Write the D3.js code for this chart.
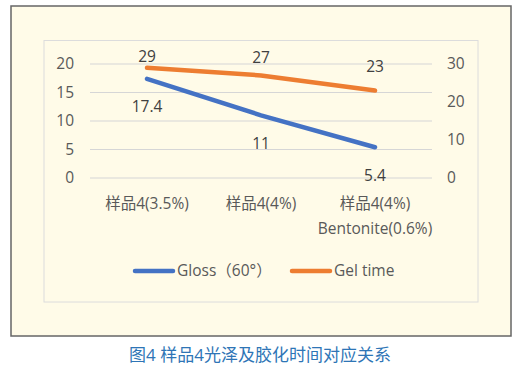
<html><head>
<meta charset="utf-8">
<script src="https://d3js.org/d3.v7.min.js"></script>
<style>
  body { margin: 0; background: #fff; }
  text { font-family: "Open Sans", "Noto Sans CJK SC", sans-serif; }
</style>
</head>
<body>
<div id="chart"></div>
<script>

// data
var categories = ["样品4(3.5%)", "样品4(4%)", "样品4(4%)\nBentonite(0.6%)"];
var gloss = [17.4, 11, 5.4];
var gelTime = [29, 27, 23];
var leftTicks = [0, 5, 10, 15, 20];
var rightTicks = [0, 10, 20, 30];
var seriesNames = ["Gloss（60°）", "Gel time"];
var caption = "图4 样品4光泽及胶化时间对应关系";

// label nudges (px) as placed in the original
var gelLabelDy = [-11, -18, -24];
var glossLabelDy = 28;

var W = 527, H = 374;
var plot = {left: 90, right: 432, top: 64, bottom: 178};
var fs = "15.5px";

var svg = d3.select("#chart").append("svg")
    .attr("width", W).attr("height", H);

// outer frame
svg.append("rect")
    .attr("x", 11).attr("y", 6).attr("width", 500).attr("height", 330)
    .attr("fill", "#fffbe8").attr("stroke", "#666").attr("stroke-width", 1.5);

// chart area frame
svg.append("rect")
    .attr("x", 44).attr("y", 40.5).attr("width", 434).attr("height", 261.5)
    .attr("fill", "none").attr("stroke", "#dcdcdc").attr("stroke-width", 1);

var x = d3.scaleBand().domain(categories).range([plot.left, plot.right]);
var yL = d3.scaleLinear().domain([0, 20]).range([plot.bottom, plot.top]);
var yR = d3.scaleLinear().domain([0, 30]).range([plot.bottom, plot.top]);

// grid
svg.append("g").selectAll("line").data(leftTicks).enter().append("line")
    .attr("x1", plot.left).attr("x2", plot.right)
    .attr("y1", function(d) { return yL(d); })
    .attr("y2", function(d) { return yL(d); })
    .attr("stroke", "#d6d6d6").attr("stroke-width", 1.2);

// left axis
var gl = svg.append("g")
    .attr("transform", "translate(" + 80 + ",0)")
    .call(d3.axisLeft(yL).tickValues(leftTicks).tickSize(0).tickPadding(6));
gl.select(".domain").remove();
gl.selectAll("text").attr("fill", "#595959").style("font-size", fs);

// right axis
var gr = svg.append("g")
    .attr("transform", "translate(" + 441 + ",0)")
    .call(d3.axisRight(yR).tickValues(rightTicks).tickSize(0).tickPadding(6));
gr.select(".domain").remove();
gr.selectAll("text").attr("fill", "#595959").style("font-size", fs);

// category labels
var cat = svg.append("g").selectAll("text").data(categories).enter().append("text")
    .attr("text-anchor", "middle")
    .attr("fill", "#595959").style("font-size", fs);
cat.each(function(d) {
  var t = d3.select(this);
  var cx = x(d) + x.bandwidth() / 2;
  d.split("\n").forEach(function(s, i) {
    t.append("tspan").attr("x", cx).attr("y", 208.5 + i * 25).text(s);
  });
});

function cx(i) { return x(categories[i]) + x.bandwidth() / 2; }

// lines
svg.append("path")
    .datum(gloss)
    .attr("fill", "none").attr("stroke", "#4472c4").attr("stroke-width", 4.5)
    .attr("stroke-linecap", "round")
    .attr("d", d3.line().x(function(d, i) { return cx(i); }).y(function(d) { return yL(d); }));

svg.append("path")
    .datum(gelTime)
    .attr("fill", "none").attr("stroke", "#ed7d31").attr("stroke-width", 4.5)
    .attr("stroke-linecap", "round")
    .attr("d", d3.line().x(function(d, i) { return cx(i); }).y(function(d) { return yR(d); }));

// data labels
svg.append("g").selectAll("text").data(gloss).enter().append("text")
    .attr("x", function(d, i) { return cx(i); })
    .attr("y", function(d) { return yL(d) + glossLabelDy; })
    .attr("dy", "0.35em").attr("text-anchor", "middle")
    .attr("fill", "#404040").style("font-size", fs)
    .text(function(d) { return d; });

svg.append("g").selectAll("text").data(gelTime).enter().append("text")
    .attr("x", function(d, i) { return cx(i); })
    .attr("y", function(d, i) { return yR(d) + gelLabelDy[i]; })
    .attr("dy", "0.35em").attr("text-anchor", "middle")
    .attr("fill", "#404040").style("font-size", fs)
    .text(function(d) { return d; });

// legend
var colors = ["#4472c4", "#ed7d31"];
var legX = [135, 292];
seriesNames.forEach(function(name, i) {
  svg.append("line")
      .attr("x1", legX[i]).attr("x2", legX[i] + 38)
      .attr("y1", 271).attr("y2", 271)
      .attr("stroke", colors[i]).attr("stroke-width", 4.5)
      .attr("stroke-linecap", "round");
  svg.append("text")
      .attr("x", legX[i] + 42).attr("y", 271).attr("dy", "0.35em")
      .attr("fill", "#595959").style("font-size", fs)
      .text(name);
});

// caption
svg.append("text")
    .attr("x", 260).attr("y", 355).attr("dy", "0.35em")
    .attr("text-anchor", "middle")
    .attr("fill", "#2e75b6").style("font-size", "17px")
    .text(caption);

</script>
</body></html>
